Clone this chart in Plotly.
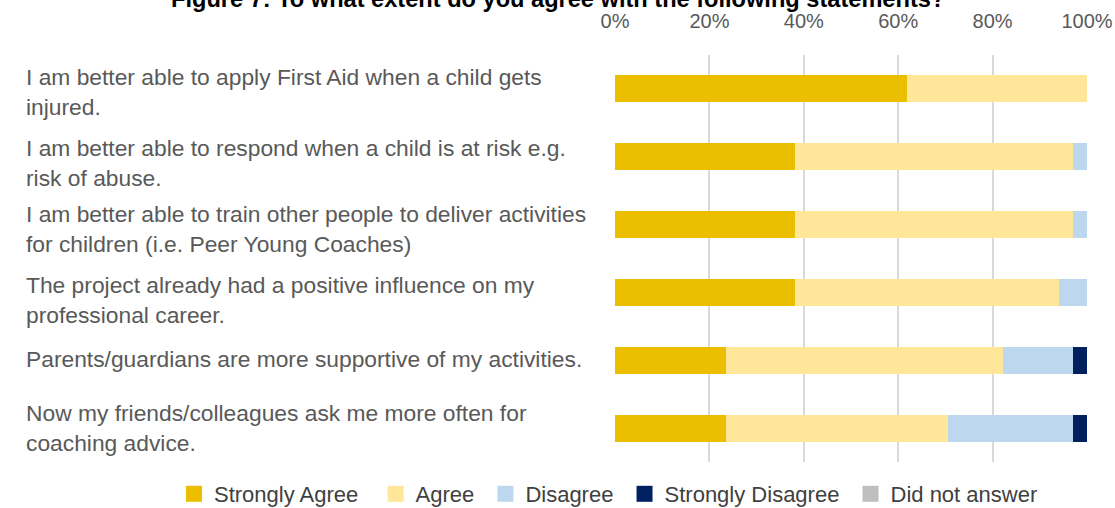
import plotly.graph_objects as go

categories = [
    "I am better able to apply First Aid when a child gets<br>injured.",
    "I am better able to respond when a child is at risk e.g.<br>risk of abuse.",
    "I am better able to train other people to deliver activities<br>for children (i.e. Peer Young Coaches)",
    "The project already had a positive influence on my<br>professional career.",
    "Parents/guardians are more supportive of my activities.",
    "Now my friends/colleagues ask me more often for<br>coaching advice.",
]
series_names = ["Strongly Agree", "Agree", "Disagree", "Strongly Disagree", "Did not answer"]
strongly_agree = [61.8, 38.2, 38.2, 38.2, 23.5, 23.5]
agree = [38.2, 58.8, 58.8, 55.9, 58.8, 47.1]
disagree = [0.0, 2.9, 2.9, 5.9, 14.7, 26.5]
strongly_disagree = [0.0, 0.0, 0.0, 0.0, 2.9, 2.9]
did_not_answer = [0.0, 0.0, 0.0, 0.0, 0.0, 0.0]
tick_vals = [0, 20, 40, 60, 80, 100]
tick_text = ["0%", "20%", "40%", "60%", "80%", "100%"]
label_shift = [-3, -6, -4, -8, 1, 0]
legend_pad = [2, 1, 1, 1, 0]

colors = ["#EBBE00", "#FFE699", "#BDD7EE", "#002060", "#BFBFBF"]
values = [strongly_agree, agree, disagree, strongly_disagree, did_not_answer]

W, H = 1115, 508
ML, MR, MT, MB = 615, 28, 55, 46
plot_w = W - ML - MR
plot_h = H - MT - MB

fig = go.Figure()
ids = list(range(len(categories)))
for name, vals, col in zip(series_names, values, colors):
    fig.add_trace(go.Bar(
        y=ids, x=vals, orientation="h", name=name,
        marker=dict(color=col, line=dict(width=0)),
        showlegend=False, hoverinfo="x+name",
    ))
for name, col, pad in zip(series_names, colors, legend_pad):
    fig.add_trace(go.Scatter(
        x=[None], y=[None], mode="markers", name=name + "\u00a0" * pad,
        marker=dict(symbol="square", size=16, color=col),
        showlegend=True, hoverinfo="skip",
    ))

font_family = "Liberation Sans, Arial, sans-serif"
for i, cat in enumerate(categories):
    fig.add_annotation(
        x=(24 - ML) / plot_w, xref="paper", y=i, yref="y",
        text=cat, showarrow=False, xanchor="left", yanchor="middle",
        align="left", yshift=label_shift[i],
        font=dict(family=font_family, size=22.8, color="#595959"),
    )

fig.add_annotation(
    x=(558 - ML) / plot_w, xref="paper", y=1 + (MT - 14) / plot_h, yref="paper",
    text="<b>Figure 7: To what extent do you agree with the following statements?</b>",
    showarrow=False, xanchor="center", yanchor="bottom",
    font=dict(family=font_family, size=23.6, color="#000000"),
)

fig.update_layout(
    width=W, height=H,
    margin=dict(l=ML, r=MR, t=MT, b=MB, pad=0, autoexpand=False),
    barmode="stack", bargap=0.6,
    plot_bgcolor="white", paper_bgcolor="white",
    font=dict(family=font_family, color="#595959"),
    showlegend=True,
    legend=dict(
        orientation="h", x=(174 - ML) / plot_w, xanchor="left",
        y=-32 / plot_h, yanchor="middle", traceorder="normal",
        font=dict(size=22, color="#404040"),
        itemclick=False, bgcolor="rgba(0,0,0,0)",
    ),
    xaxis=dict(
        range=[0, 100], side="top", tickvals=tick_vals, ticktext=tick_text,
        showgrid=True, gridcolor="#D9D9D9", gridwidth=1.5, automargin=False,
        zeroline=False, showline=False, ticks="", ticklabelstandoff=22,
        tickfont=dict(size=20, color="#595959"), fixedrange=True,
    ),
    yaxis=dict(
        range=[len(categories) - 0.5, -0.5], showticklabels=False, automargin=False,
        showgrid=False, zeroline=False, showline=False, fixedrange=True,
    ),
)

fig.write_html("out.html")
